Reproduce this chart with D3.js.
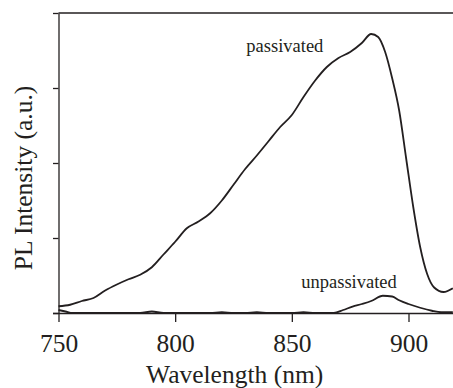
<!DOCTYPE html>
<html>
<head>
<meta charset="utf-8">
<script src="https://cdn.jsdelivr.net/npm/d3@7"></script>
<style>
  html, body { margin: 0; padding: 0; background: #fff; }
  #chart { width: 453px; height: 388px; }
  text { font-family: "Liberation Serif", "DejaVu Serif", serif; fill: #231f20; }
</style>
</head>
<body>
<div id="chart"></div>
<script>
// wavelength (nm) and intensity (a.u.)
const passivatedX = [750, 755, 760, 765, 770, 775, 780, 785, 790, 795, 800, 805, 810, 815, 820, 825, 830, 835, 840, 845, 850, 855, 860, 865, 870, 875, 880, 884, 887, 890, 893, 896, 899, 902, 905, 908, 911, 915, 919];
const passivatedY = [0.09, 0.11, 0.16, 0.20, 0.30, 0.38, 0.45, 0.51, 0.61, 0.78, 0.95, 1.13, 1.22, 1.33, 1.50, 1.71, 1.92, 2.10, 2.29, 2.48, 2.64, 2.88, 3.10, 3.28, 3.40, 3.48, 3.60, 3.72, 3.68, 3.48, 3.13, 2.70, 2.06, 1.42, 0.88, 0.52, 0.34, 0.28, 0.33];

const unpassivatedX = [750, 753, 756, 760, 785, 790, 795, 815, 820, 825, 830, 835, 840, 850, 855, 860, 868, 872, 876, 880, 884, 889, 893, 896, 900, 905, 910, 914, 919];
const unpassivatedY = [0.04, 0.02, 0.0, 0.0, 0.0, 0.02, 0.0, 0.0, 0.01, 0.0, 0.0, 0.01, 0.0, 0.0, 0.01, 0.0, 0.0, 0.04, 0.085, 0.12, 0.16, 0.23, 0.22, 0.17, 0.12, 0.07, 0.03, 0.01, 0.01];

const xTicks = [750, 800, 850, 900];
const yTicks = [0, 1, 2, 3, 4];

const width = 453, height = 388;
const margin = { top: 13, left: 58.5, bottom: 75 };

const svg = d3.select("#chart").append("svg")
  .attr("width", width)
  .attr("height", height);

const x = d3.scaleLinear()
  .domain([750, 919])
  .range([margin.left, margin.left + 169 * 350 / 150]);

const y = d3.scaleLinear()
  .domain([0, 4])
  .range([height - margin.bottom, margin.top]);

const ink = "#231f20";

// top frame line
svg.append("line")
  .attr("x1", margin.left).attr("x2", width)
  .attr("y1", y(4)).attr("y2", y(4))
  .attr("stroke", ink).attr("stroke-width", 1.3);

// x axis
const xAxis = svg.append("g")
  .attr("transform", `translate(0,${y(0)})`)
  .call(d3.axisBottom(x).tickValues(xTicks).tickSize(9).tickPadding(12).tickSizeOuter(0));
xAxis.select(".domain").attr("stroke", ink).attr("stroke-width", 1.3)
  .attr("d", `M${margin.left - 5.5},0.5H${width}`);
xAxis.selectAll(".tick line").attr("stroke", ink).attr("stroke-width", 1.3);
xAxis.selectAll(".tick text")
  .style("font-family", "Liberation Serif, serif")
  .style("font-size", "25.5px").attr("fill", ink);

// y axis (ticks only, no labels)
const yAxis = svg.append("g")
  .attr("transform", `translate(${margin.left},0)`)
  .call(d3.axisLeft(y).tickValues(yTicks).tickSize(5.5).tickFormat("").tickSizeOuter(0));
yAxis.select(".domain").attr("stroke", ink).attr("stroke-width", 1.3);
yAxis.selectAll(".tick line").attr("stroke", ink).attr("stroke-width", 1.3);

const line = d3.line()
  .x(d => x(d[0]))
  .y(d => y(d[1]))
  .curve(d3.curveMonotoneX);

const series = [
  d3.zip(passivatedX, passivatedY),
  d3.zip(unpassivatedX, unpassivatedY)
];

svg.append("g").selectAll("path")
  .data(series)
  .join("path")
  .attr("d", line)
  .attr("fill", "none")
  .attr("stroke", ink)
  .attr("stroke-width", 1.8)
  .attr("stroke-linejoin", "round");

// curve labels
svg.append("text")
  .attr("x", x(847)).attr("y", 51.5)
  .attr("text-anchor", "middle")
  .style("font-size", "18.5px")
  .text("passivated");

svg.append("text")
  .attr("x", x(874.5)).attr("y", 287.5)
  .attr("text-anchor", "middle")
  .style("font-size", "18.5px")
  .text("unpassivated");

// axis titles
svg.append("text")
  .attr("x", x(825.5)).attr("y", 382.5)
  .attr("text-anchor", "middle")
  .style("font-size", "25.5px")
  .text("Wavelength (nm)");

svg.append("text")
  .attr("transform", `translate(31.5,${178}) rotate(-90)`)
  .attr("text-anchor", "middle")
  .style("font-size", "25.5px")
  .text("PL Intensity (a.u.)");
</script>
</body>
</html>
